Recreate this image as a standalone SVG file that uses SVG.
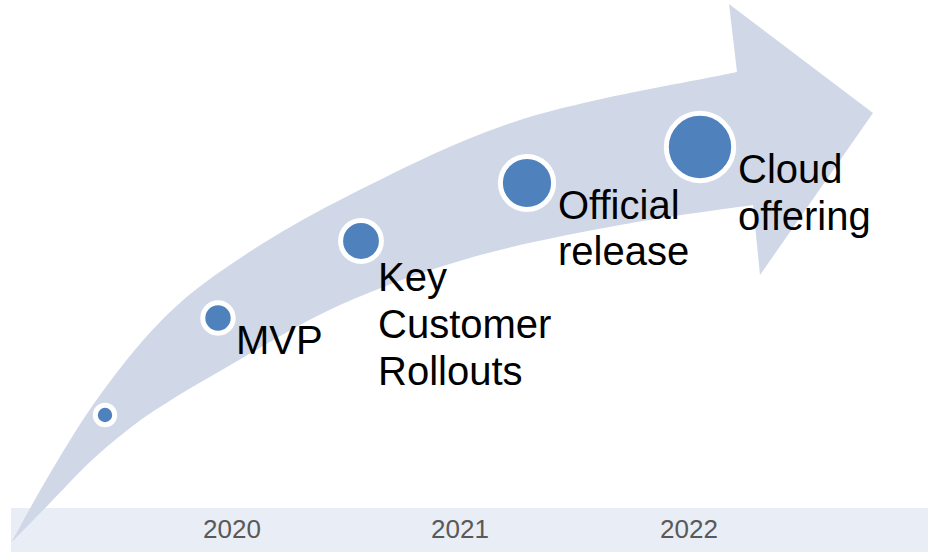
<svg xmlns="http://www.w3.org/2000/svg" width="928" height="552" viewBox="0 0 928 552">
<style>
.lbl{font-family:"Liberation Sans",Arial,sans-serif;font-size:40px;fill:#000}
.yr{font-family:"Liberation Sans",Arial,sans-serif;font-size:26px;fill:#595959;text-anchor:middle}
.dot{fill:#4F81BD;stroke:#fff;stroke-width:5}
</style>
<rect id="timeline-bar" x="11" y="508" width="917" height="44" fill="#E9EDF5"/>
<g id="arrow">
<path fill="#D0D8E8" d="M11,543 C17.8,530.8 37.2,494.7 52,470 C66.8,445.3 82,419.7 100,395 C118,370.3 138.8,343.3 160,322 C181.2,300.7 197,287.3 227,267 C257,246.7 291.2,224.5 340,200 C388.8,175.5 453.8,141.3 520,120 C586.2,98.7 700.8,80 737,72 L729,4 L873,113 L760,275 L753,205 C730.8,208.3 666.7,216.3 620,225 C573.3,233.7 519.7,243.7 473,257 C426.3,270.3 381,286.7 340,305 C299,323.3 257,350 227,367 C197,384 177,396.2 160,407 C143,417.8 136.7,422.8 125,432 C113.3,441.2 102.5,450.2 90,462 C77.5,473.8 63.2,489.5 50,503 C36.8,516.5 17.5,536.3 11,543 Z"/>
</g>
<g id="start"><circle class="dot" cx="105" cy="415" r="9.7"/></g>
<g id="mvp"><circle class="dot" cx="218" cy="318" r="15.2"/><text class="lbl" x="236" y="354">MVP</text></g>
<g id="key-customer-rollouts"><circle class="dot" cx="361" cy="241" r="20.4"/><text class="lbl" x="378" y="291">Key</text><text class="lbl" x="378" y="338">Customer</text><text class="lbl" x="378" y="385">Rollouts</text></g>
<g id="official-release"><circle class="dot" cx="527" cy="183" r="26.6"/><text class="lbl" x="558" y="219">Official</text><text class="lbl" x="558" y="265">release</text></g>
<g id="cloud-offering"><circle class="dot" cx="700" cy="147" r="33.7"/><text class="lbl" x="738" y="183">Cloud</text><text class="lbl" x="738" y="230">offering</text></g>
<g id="years"><text class="yr" x="232" y="538">2020</text><text class="yr" x="460" y="538">2021</text><text class="yr" x="689" y="538">2022</text></g>
<g id="connectors"></g>
</svg>
